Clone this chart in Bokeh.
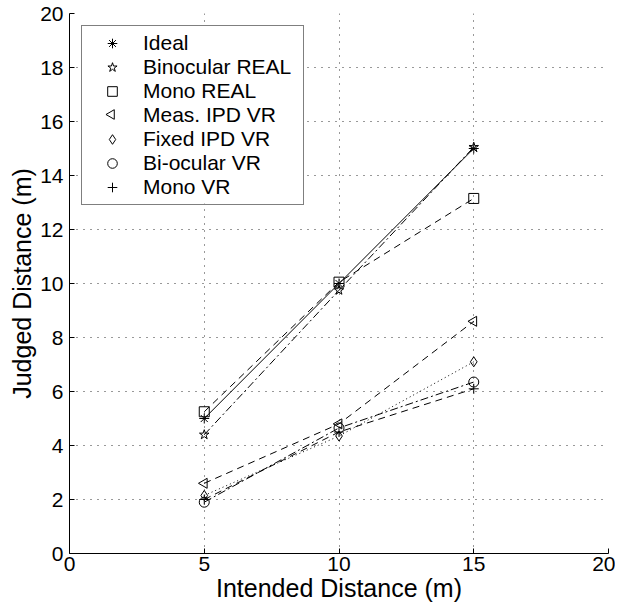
import math
from bokeh.plotting import figure
from bokeh.models import Legend, LegendItem, FixedTicker, BoxAnnotation
from bokeh.embed import file_html
from bokeh.resources import INLINE

intended = [5, 10, 15]
ideal = [5.0, 10.0, 15.0]
binocular_real = [4.4, 9.75, 15.05]
mono_real = [5.25, 10.05, 13.15]
meas_ipd_vr = [2.6, 4.8, 8.6]
fixed_ipd_vr = [2.15, 4.35, 7.1]
biocular_vr = [1.9, 4.65, 6.35]
mono_vr = [2.0, 4.5, 6.1]

series = [
    ("Ideal", ideal, "solid", "asterisk", 0),
    ("Binocular REAL", binocular_real, "8 3 2 3", "star", 0),
    ("Mono REAL", mono_real, "7 5", "square", 0),
    ("Meas. IPD VR", meas_ipd_vr, "7 5", "triangle", math.pi / 2),
    ("Fixed IPD VR", fixed_ipd_vr, "1 3", "diamond", 0),
    ("Bi-ocular VR", biocular_vr, "8 3 2 3", "circle", 0),
    ("Mono VR", mono_vr, "7 5", "cross", 0),
]

FONT = "Liberation Sans"
W, H = 615, 609
BL, BR, BT, BB = 69, 7, 13, 56
XMAX, YMAX = 20, 20

p = figure(width=W, height=H, output_backend="svg", toolbar_location=None,
           x_range=(0, XMAX), y_range=(0, YMAX),
           min_border_left=BL, min_border_right=BR, min_border_top=BT, min_border_bottom=BB)
p.outline_line_color = None
p.background_fill_color = "white"
p.border_fill_color = "white"

for ax in (p.xaxis, p.yaxis):
    ax.axis_line_color = "black"
    ax.major_tick_in = 5
    ax.major_tick_out = 0
    ax.minor_tick_in = 0
    ax.minor_tick_out = 0
    ax.major_label_text_font = FONT
    ax.major_label_text_font_size = "21px"
    ax.major_label_text_color = "black"
    ax.axis_label_text_font = FONT
    ax.axis_label_text_font_size = "25px"
    ax.axis_label_text_font_style = "normal"
    ax.axis_label_text_color = "black"

p.xaxis.ticker = FixedTicker(ticks=[0, 5, 10, 15, 20])
p.yaxis.ticker = FixedTicker(ticks=[0, 2, 4, 6, 8, 10, 12, 14, 16, 18, 20])
p.xaxis.axis_label = "Intended Distance (m)"
p.yaxis.axis_label = "Judged Distance (m)"
p.xaxis.major_label_standoff = 3
p.xaxis.axis_label_standoff = 0
p.yaxis.major_label_standoff = 6
p.yaxis.axis_label_standoff = 1

for g in (p.xgrid, p.ygrid):
    g.grid_line_color = "#333333"
    g.grid_line_dash = "1 6"
    g.grid_line_width = 1

MARGIN, PAD, GW, ROWH, STANDOFF, LABW = 12, 5, 50, 24, 6, 155
frame_w = W - BL - BR
frame_h = H - BT - BB

def px_to_x(px):
    return px / frame_w * XMAX

def px_to_y(px_from_top):
    return (frame_h - px_from_top) / frame_h * YMAX

# white background of the legend box, drawn under the data glyphs (covers the grid)
leg_w = 2 * PAD + GW + STANDOFF + LABW
leg_h = 2 * PAD + len(series) * ROWH
p.add_layout(BoxAnnotation(left=px_to_x(MARGIN), right=px_to_x(MARGIN + leg_w),
                           top=px_to_y(MARGIN), bottom=px_to_y(MARGIN + leg_h),
                           fill_color="white", fill_alpha=1.0, line_color=None,
                           level="underlay"))

items = []
for i, (name, vals, dash, marker, ang) in enumerate(series):
    p.line(intended, vals, line_color="black", line_width=1, line_dash=dash)
    r = p.scatter(intended, vals, marker=marker, size=10, angle=ang,
                  line_color="black", fill_color=None, line_width=1)
    if ang != 0:
        # Bokeh's legend does not rotate markers: invisible stand-in in the legend,
        # and the rotated symbol drawn at its slot in the legend box.
        r_leg = p.scatter(intended, vals, marker="dot", size=1, line_alpha=0, fill_alpha=0)
        items.append(LegendItem(label=name, renderers=[r_leg]))
        p.scatter([px_to_x(MARGIN + PAD + GW / 2)],
                  [px_to_y(MARGIN + PAD + i * ROWH + ROWH / 2)],
                  marker=marker, size=9.6, angle=ang, line_color="black",
                  fill_color=None, line_width=1)
    else:
        items.append(LegendItem(label=name, renderers=[r]))

legend = Legend(items=items, location="top_left", margin=MARGIN,
                padding=PAD, spacing=0, glyph_width=GW, glyph_height=ROWH,
                label_height=ROWH, label_width=LABW, label_standoff=STANDOFF,
                label_text_font=FONT, label_text_font_size="21px",
                label_text_color="black",
                border_line_color="black", border_line_width=1,
                background_fill_color="white", background_fill_alpha=0.0)
p.add_layout(legend)

open("out.html", "w").write(file_html(p, INLINE))
